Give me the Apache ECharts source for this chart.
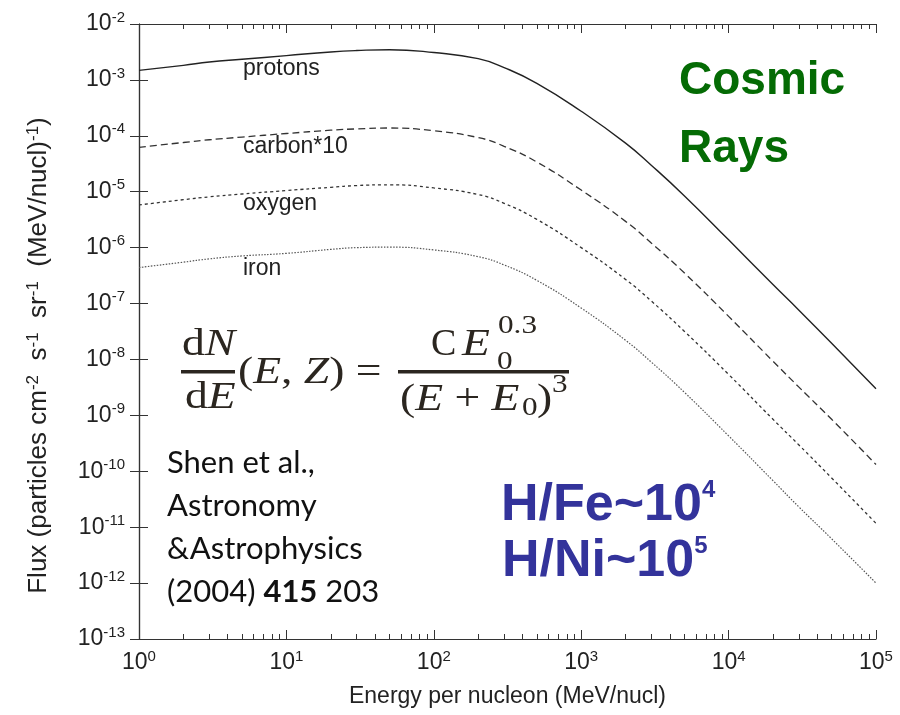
<!DOCTYPE html>
<html>
<head>
<meta charset="utf-8">
<script src="https://cdn.jsdelivr.net/npm/echarts@6/dist/echarts.min.js"></script>
<style>
  html, body { margin: 0; padding: 0; background: #fff; }
  #chart { width: 900px; height: 715px; }
</style>
</head>
<body>
<div id="chart"></div>
<script>
// energy per nucleon (MeV/nucl)
var energy = [1, 2, 3, 5, 10, 20, 30, 50, 100, 200, 300, 500, 1000, 2000, 3000, 5000, 10000, 20000, 30000, 50000, 100000];

// flux values
var protons = [1.48e-3, 1.82e-3, 2.09e-3, 2.34e-3, 2.72e-3, 3.16e-3, 3.35e-3, 3.47e-3, 3.09e-3, 2.4e-3, 1.66e-3, 8.7e-4, 2.75e-4, 7.4e-5, 2.95e-5, 8.5e-6, 1.38e-6, 2.19e-7, 7.6e-8, 1.95e-8, 3.0e-9];
var carbon10 = [6.2e-5, 7.6e-5, 8.5e-5, 9.5e-5, 1.1e-4, 1.26e-4, 1.33e-4, 1.38e-4, 1.23e-4, 9.3e-5, 6.5e-5, 3.4e-5, 1.07e-5, 2.95e-6, 1.2e-6, 3.55e-7, 5.9e-8, 9.3e-9, 3.2e-9, 8.5e-10, 1.32e-10];
var oxygen = [5.8e-6, 7.2e-6, 8.1e-6, 9.1e-6, 1.05e-5, 1.2e-5, 1.29e-5, 1.33e-5, 1.17e-5, 8.9e-6, 6.2e-6, 3.2e-6, 1.0e-6, 2.7e-7, 1.1e-7, 3.2e-8, 5.4e-9, 8.5e-10, 2.95e-10, 7.6e-11, 1.17e-11];
var iron = [4.4e-7, 5.5e-7, 6.3e-7, 7.1e-7, 7.9e-7, 9.3e-7, 1.0e-6, 1.02e-6, 9.1e-7, 6.9e-7, 4.9e-7, 2.6e-7, 8.3e-8, 2.2e-8, 8.9e-9, 2.6e-9, 4.3e-10, 6.8e-11, 2.3e-11, 6.2e-12, 1.0e-12];

// minor ticks of the energy axis (2..9 in each decade)
var minorTicks = [2, 3, 4, 5, 6, 7, 8, 9, 20, 30, 40, 50, 60, 70, 80, 90,
    200, 300, 400, 500, 600, 700, 800, 900, 2000, 3000, 4000, 5000, 6000, 7000, 8000, 9000,
    20000, 30000, 40000, 50000, 60000, 70000, 80000, 90000];

function pairs(ys) {
    return energy.map(function (e, i) { return [e, ys[i]]; });
}

function powLabel(v) {
    return '{b|10}{s|' + Math.round(Math.log10(v)) + '}';
}

var FONT = 'Liberation Sans';
var INK = '#2b2620';

var labelRich = {
    b: { fontSize: 23, fontFamily: FONT, color: '#222', lineHeight: 28 },
    s: { fontSize: 15, fontFamily: FONT, color: '#222', verticalAlign: 'top', lineHeight: 13 }
};

// pieces of the formula, x/y = left edge and vertical centre
function mathText(x, y, text, size, sx) {
    return {
        type: 'text', x: x, y: y, scaleX: sx || 1.2,
        style: {
            text: text, verticalAlign: 'middle',
            rich: {
                r: { fontSize: size, fontFamily: 'Liberation Serif', fill: INK },
                i: { fontSize: size, fontFamily: 'Liberation Serif', fontStyle: 'italic', fill: INK }
            }
        }
    };
}

var chart = echarts.init(document.getElementById('chart'));
var option = {
    animation: false,
    backgroundColor: '#fff',
    grid: { left: 139, right: 24, top: 24, bottom: 76 },
    xAxis: [
        {
            type: 'log', logBase: 10, min: 1, max: 100000, interval: 1,
            position: 'bottom',
            axisLine: { lineStyle: { color: '#333', width: 1.2 } },
            axisTick: { inside: true, length: 9, lineStyle: { color: '#333' } },
            axisLabel: { formatter: powLabel, rich: labelRich, margin: 10 },
            splitLine: { show: false },
            name: 'Energy per nucleon (MeV/nucl)',
            nameLocation: 'middle', nameGap: 46,
            nameTextStyle: { fontSize: 23, fontFamily: FONT, color: '#222' }
        },
        {
            type: 'value', min: 0, max: 5, position: 'bottom',
            axisLine: { show: false },
            axisTick: { inside: true, length: 5, customValues: minorTicks.map(Math.log10), lineStyle: { color: '#333' } },
            axisLabel: { show: false },
            splitLine: { show: false }
        },
        {
            type: 'log', logBase: 10, min: 1, max: 100000, interval: 1,
            position: 'top',
            axisLine: { lineStyle: { color: '#333', width: 1.2 } },
            axisTick: { inside: true, length: 9, lineStyle: { color: '#333' } },
            axisLabel: { show: false },
            splitLine: { show: false }
        },
        {
            type: 'value', min: 0, max: 5, position: 'top',
            axisLine: { show: false },
            axisTick: { inside: true, length: 5, customValues: minorTicks.map(Math.log10), lineStyle: { color: '#333' } },
            axisLabel: { show: false },
            splitLine: { show: false }
        }
    ],
    yAxis: [
        {
            type: 'log', logBase: 10, min: 1e-13, max: 1e-2, interval: 1,
            position: 'left',
            axisLine: { show: true, lineStyle: { color: '#333', width: 1.2 } },
            axisTick: { show: true, inside: true, length: 9, lineStyle: { color: '#333' } },
            axisLabel: { formatter: powLabel, rich: labelRich, margin: 14 },
            splitLine: { show: false },
            name: '{n|Flux (particles cm}{s|-2}{n|  s}{s|-1}{n|  sr}{s|-1}{n|  (MeV/nucl)}{s|-1}{n|)}',
            nameLocation: 'middle', nameGap: 86, nameRotate: 90,
            nameTextStyle: {
                padding: [0, 48, 0, 0],
                rich: {
                    n: { fontSize: 26, fontFamily: FONT, color: '#222', lineHeight: 28 },
                    s: { fontSize: 17, fontFamily: FONT, color: '#222', verticalAlign: 'top', lineHeight: 14 }
                }
            }
        },
        {
            type: 'log', logBase: 10, min: 1e-13, max: 1e-2, interval: 1,
            position: 'right',
            axisLine: { show: true, lineStyle: { color: '#333', width: 1.2 } },
            axisTick: { show: true, inside: true, length: 9, lineStyle: { color: '#333' } },
            axisLabel: { show: false },
            splitLine: { show: false }
        }
    ],
    series: [
        {
            name: 'protons', type: 'line', data: pairs(protons), showSymbol: false, smooth: 0.5,
            lineStyle: { color: '#222', width: 1.4, type: 'solid' }
        },
        {
            name: 'carbon*10', type: 'line', data: pairs(carbon10), showSymbol: false, smooth: 0.5,
            lineStyle: { color: '#333', width: 1.3, type: [7, 4] }
        },
        {
            name: 'oxygen', type: 'line', data: pairs(oxygen), showSymbol: false, smooth: 0.5,
            lineStyle: { color: '#333', width: 1.3, type: [3, 3] }
        },
        {
            name: 'iron', type: 'line', data: pairs(iron), showSymbol: false, smooth: 0.5,
            lineStyle: { color: '#555', width: 1.2, type: [1.5, 1.5] }
        }
    ],
    graphic: [
        // curve names
        { type: 'text', x: 243, y: 69, style: { text: 'protons', fontSize: 23, fontFamily: FONT, fill: '#222', verticalAlign: 'middle' } },
        { type: 'text', x: 243, y: 147, style: { text: 'carbon*10', fontSize: 23, fontFamily: FONT, fill: '#222', verticalAlign: 'middle' } },
        { type: 'text', x: 243, y: 204, style: { text: 'oxygen', fontSize: 23, fontFamily: FONT, fill: '#222', verticalAlign: 'middle' } },
        { type: 'text', x: 243, y: 269, style: { text: 'iron', fontSize: 23, fontFamily: FONT, fill: '#222', verticalAlign: 'middle' } },
        // title
        { type: 'text', x: 679, y: 81, style: { text: 'Cosmic', fontSize: 46, fontWeight: 'bold', fontFamily: FONT, fill: '#046b04', verticalAlign: 'middle' } },
        { type: 'text', x: 679, y: 149, style: { text: 'Rays', fontSize: 46, fontWeight: 'bold', fontFamily: FONT, fill: '#046b04', verticalAlign: 'middle' } },
        // abundance ratios
        { type: 'text', x: 501, y: 506, style: { text: '{m|H/Fe~10}{p|4}', verticalAlign: 'middle', rich: {
            m: { fontSize: 52, fontWeight: 'bold', fontFamily: FONT, fill: '#33339b', lineHeight: 56 },
            p: { fontSize: 24, fontWeight: 'bold', fontFamily: FONT, fill: '#33339b', verticalAlign: 'top', lineHeight: 26 } } } },
        { type: 'text', x: 502, y: 562, style: { text: '{m|H/Ni~10}{p|5}', verticalAlign: 'middle', rich: {
            m: { fontSize: 52, fontWeight: 'bold', fontFamily: FONT, fill: '#33339b', lineHeight: 56 },
            p: { fontSize: 24, fontWeight: 'bold', fontFamily: FONT, fill: '#33339b', verticalAlign: 'top', lineHeight: 26 } } } },
        // reference
        { type: 'text', left: 167, top: 441, style: { text: 'Shen et al.,\nAstronomy\n&Astrophysics\n(2004) {bd|415} 203',
            fontSize: 31, fontFamily: 'Lato', fill: '#111', lineHeight: 43,
            rich: { bd: { fontSize: 31, fontFamily: 'Lato', fontWeight: 'bold', fill: '#111', lineHeight: 43 } } } },
        // formula
        mathText(182, 345, '{r|d}{i|N}', 38),
        { type: 'rect', shape: { x: 181, y: 370, width: 54, height: 3.5 }, style: { fill: INK } },
        mathText(185, 398, '{r|d}{i|E}', 38),
        mathText(238, 373, '{r|(}{i|E}{r|, }{i|Z}{r|) =}', 38),
        { type: 'rect', shape: { x: 398, y: 370, width: 171, height: 3.5 }, style: { fill: INK } },
        mathText(431, 345, '{r|C}', 38, 1),
        mathText(462, 345, '{i|E}', 38),
        mathText(498, 326, '{r|0.3}', 26),
        mathText(497, 362, '{r|0}', 26),
        mathText(400, 400, '{r|(}{i|E}{r| + }{i|E}', 38),
        mathText(522, 408, '{r|0}', 26),
        mathText(537, 400, '{r|)}', 38),
        mathText(552, 385, '{r|3}', 26)
    ]
};
chart.setOption(option);
</script>
</body>
</html>
